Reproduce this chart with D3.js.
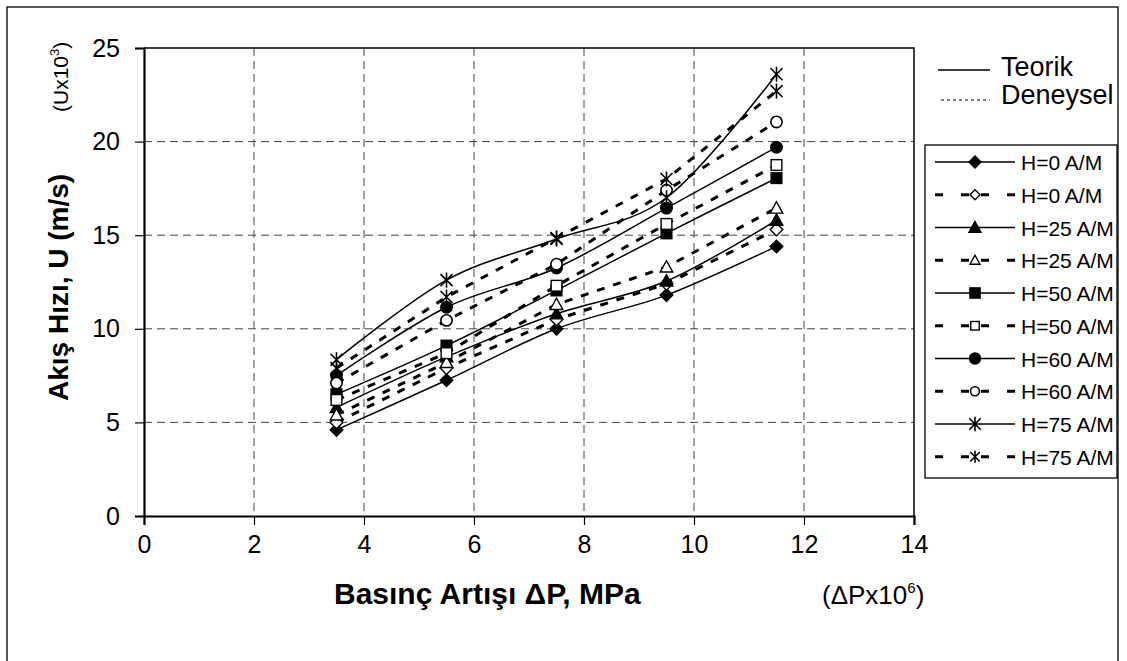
<!DOCTYPE html>
<html lang="tr">
<head>
<meta charset="utf-8" />
<title>Akış Hızı - Basınç Artışı</title>
<script src="https://cdn.jsdelivr.net/npm/d3@7"></script>
<style>
    body { margin: 0; background: #fff; }
    svg { font-family: "Liberation Sans", Arial, sans-serif; }
    .grid line { stroke: #444; stroke-width: 1; stroke-dasharray: 8,5; }
    .tick-label { font-size: 25px; fill: #000; }
    .theo { fill: none; stroke: #000; stroke-width: 1.5px; }
    .exp { fill: none; stroke: #000; stroke-width: 3px; stroke-dasharray: 8,9; }
</style>
</head>
<body>
<div id="chart"></div>
<script>
// basınç artışı (x) değerleri
const pressure = [3.5, 5.5, 7.5, 9.5, 11.5];

// teorik ve deneysel akış hızları (Ux10^3)
const h0Teorik   = [4.6, 7.25, 10.0, 11.8, 14.4];
const h0Deneysel = [5.0, 7.9, 10.5, 12.4, 15.3];
const h25Teorik   = [5.8, 8.5, 10.8, 12.55, 15.8];
const h25Deneysel = [5.4, 8.2, 11.3, 13.3, 16.45];
const h50Teorik   = [6.5, 9.1, 12.05, 15.1, 18.05];
const h50Deneysel = [6.2, 8.7, 12.3, 15.6, 18.75];
const h60Teorik   = [7.5, 11.15, 13.25, 16.45, 19.7];
const h60Deneysel = [7.1, 10.45, 13.45, 17.4, 21.05];
const h75Teorik   = [8.35, 12.6, 14.8, 17.0, 23.6];
const h75Deneysel = [7.9, 11.7, 14.85, 18.0, 22.7];

const seriesNames = ['H=0 A/M', 'H=0 A/M', 'H=25 A/M', 'H=25 A/M', 'H=50 A/M',
                     'H=50 A/M', 'H=60 A/M', 'H=60 A/M', 'H=75 A/M', 'H=75 A/M'];
const xTicks = [0, 2, 4, 6, 8, 10, 12, 14];
const yTicks = [0, 5, 10, 15, 20, 25];

const series = [
    {values: h0Teorik,   marker: 'diamond',  filled: true,  exp: false},
    {values: h0Deneysel, marker: 'diamond',  filled: false, exp: true},
    {values: h25Teorik,  marker: 'triangle', filled: true,  exp: false},
    {values: h25Deneysel,marker: 'triangle', filled: false, exp: true},
    {values: h50Teorik,  marker: 'square',   filled: true,  exp: false},
    {values: h50Deneysel,marker: 'square',   filled: false, exp: true},
    {values: h60Teorik,  marker: 'circle',   filled: true,  exp: false},
    {values: h60Deneysel,marker: 'circle',   filled: false, exp: true},
    {values: h75Teorik,  marker: 'star',     filled: true,  exp: false},
    {values: h75Deneysel,marker: 'star',     filled: false, exp: true}
];

const W = 1127, H = 661;
const plot = {left: 144, right: 914, top: 48, bottom: 516};

const x = d3.scaleLinear().domain([0, 14]).range([plot.left, plot.right]);
const y = d3.scaleLinear().domain([0, 25]).range([plot.bottom, plot.top]);

const svg = d3.select('#chart').append('svg')
    .attr('width', W)
    .attr('height', H);

// dış çerçeve
svg.append('rect')
    .attr('x', 7).attr('y', 7)
    .attr('width', 1111).attr('height', 670)
    .attr('fill', 'none').attr('stroke', '#000').attr('stroke-width', 1.3);

// ızgara
const grid = svg.append('g').attr('class', 'grid');
grid.selectAll('.gx')
    .data(xTicks.filter(d => d > 0 && d < 14))
    .enter().append('line')
    .attr('x1', d => x(d)).attr('x2', d => x(d))
    .attr('y1', plot.top).attr('y2', plot.bottom);
grid.selectAll('.gy')
    .data(yTicks.filter(d => d > 0 && d < 25))
    .enter().append('line')
    .attr('x1', plot.left).attr('x2', plot.right)
    .attr('y1', d => y(d)).attr('y2', d => y(d));

// üst ve sağ çerçeve
svg.append('path')
    .attr('d', 'M' + plot.left + ',' + plot.top + 'H' + plot.right + 'V' + plot.bottom)
    .attr('fill', 'none').attr('stroke', '#000').attr('stroke-width', 1.5);

// eksenler
const xAxis = svg.append('g')
    .attr('transform', 'translate(0,' + plot.bottom + ')')
    .call(d3.axisBottom(x).tickValues(xTicks).tickSize(9).tickPadding(10));
const yAxis = svg.append('g')
    .attr('transform', 'translate(' + plot.left + ',0)')
    .call(d3.axisLeft(y).tickValues(yTicks).tickSize(9).tickPadding(15));
[xAxis, yAxis].forEach(a => {
    a.select('.domain').attr('stroke-width', 2.2).attr('stroke', '#000');
    a.selectAll('.tick line').attr('stroke', '#000').attr('stroke-width', 1.2);
    a.selectAll('.tick text')
        .attr('class', 'tick-label')
        .style('font-family', '"Liberation Sans", Arial, sans-serif');
});

// çizgiler
const theoLine = d3.line()
    .x((d, i) => x(pressure[i]))
    .y(d => y(d))
    .curve(d3.curveCardinal.tension(0));
const expLine = d3.line()
    .x((d, i) => x(pressure[i]))
    .y(d => y(d));

function drawMarker(g, type, filled, s) {
    const fill = filled ? '#000' : '#fff';
    if (type === 'diamond') {
        g.append('path').attr('d', 'M0,' + (-s) + 'L' + s + ',0L0,' + s + 'L' + (-s) + ',0Z')
            .attr('fill', fill).attr('stroke', '#000').attr('stroke-width', 1.4);
    } else if (type === 'triangle') {
        g.append('path').attr('d', 'M0,' + (-s) + 'L' + s + ',' + (s * 0.8) + 'L' + (-s) + ',' + (s * 0.8) + 'Z')
            .attr('fill', fill).attr('stroke', '#000').attr('stroke-width', 1.4);
    } else if (type === 'square') {
        const h = s * 0.85;
        g.append('rect').attr('x', -h).attr('y', -h).attr('width', 2 * h).attr('height', 2 * h)
            .attr('fill', fill).attr('stroke', '#000').attr('stroke-width', 1.4);
    } else if (type === 'circle') {
        g.append('circle').attr('r', s * 0.9)
            .attr('fill', fill).attr('stroke', '#000').attr('stroke-width', 1.6);
    } else if (type === 'star') {
        const a = s * 0.95;
        g.append('path')
            .attr('d', 'M' + (-a) + ',' + (-a) + 'L' + a + ',' + a + 'M' + a + ',' + (-a) + 'L' + (-a) + ',' + a +
                'M0,' + (-s * 1.2) + 'V' + (s * 1.2))
            .attr('stroke', '#000').attr('stroke-width', 1.6).attr('fill', 'none');
    }
}

series.forEach(s => {
    svg.append('path')
        .datum(s.values)
        .attr('class', s.exp ? 'exp' : 'theo')
        .attr('d', s.exp ? expLine : theoLine);
    s.values.forEach((v, i) => {
        const g = svg.append('g').attr('transform', 'translate(' + x(pressure[i]) + ',' + y(v) + ')');
        drawMarker(g, s.marker, s.filled, 6.3);
    });
});

// eksen başlıkları
svg.append('text')
    .attr('x', 334).attr('y', 604)
    .style('font-size', '30px').style('font-weight', 'bold')
    .text('Basınç Artışı ΔP, MPa');
const xUnit = svg.append('text')
    .attr('x', 822).attr('y', 604)
    .style('font-size', '26px');
xUnit.append('tspan').text('(ΔPx10');
xUnit.append('tspan').attr('dy', -11).style('font-size', '15px').text('6');
xUnit.append('tspan').attr('dy', 11).text(')');

svg.append('text')
    .attr('transform', 'translate(68,401) rotate(-90)')
    .style('font-size', '28px').style('font-weight', 'bold')
    .text('Akış Hızı, U  (m/s)');
const yUnit = svg.append('text')
    .attr('transform', 'translate(68,112) rotate(-90)')
    .style('font-size', '21px');
yUnit.append('tspan').text('(Ux10');
yUnit.append('tspan').attr('dy', -9).style('font-size', '13px').text('3');
yUnit.append('tspan').attr('dy', 9).text(')');

// üst açıklama (Teorik / Deneysel)
svg.append('line').attr('x1', 938).attr('x2', 990).attr('y1', 70).attr('y2', 70)
    .attr('stroke', '#000').attr('stroke-width', 1.3);
svg.append('text').attr('x', 1001).attr('y', 76).style('font-size', '27px').text('Teorik');
svg.append('line').attr('x1', 941).attr('x2', 990).attr('y1', 100).attr('y2', 100)
    .attr('stroke', '#000').attr('stroke-width', 1).attr('stroke-dasharray', '3,3');
svg.append('text').attr('x', 1001).attr('y', 104).style('font-size', '27px').text('Deneysel');

// seri açıklaması
const legend = svg.append('g');
legend.append('rect')
    .attr('x', 925).attr('y', 145).attr('width', 192).attr('height', 333)
    .attr('fill', '#fff').attr('stroke', '#000').attr('stroke-width', 1.3);

const rows = legend.selectAll('.row')
    .data(series)
    .enter().append('g')
    .attr('transform', (d, i) => 'translate(0,' + (162 + i * 32.75) + ')');
rows.each(function(d, i) {
    const g = d3.select(this);
    if (d.exp) {
        g.append('line').attr('x1', 935).attr('x2', 972).attr('y1', 0).attr('y2', 0)
            .attr('stroke', '#000').attr('stroke-width', 3).attr('stroke-dasharray', '8,18');
        g.append('line').attr('x1', 1015).attr('x2', 978).attr('y1', 0).attr('y2', 0)
            .attr('stroke', '#000').attr('stroke-width', 3).attr('stroke-dasharray', '8,18');
    } else {
        g.append('line').attr('x1', 935).attr('x2', 1015).attr('y1', 0).attr('y2', 0)
            .attr('stroke', '#000').attr('stroke-width', 1.3);
    }
    const m = g.append('g').attr('transform', 'translate(975,0)');
    drawMarker(m, d.marker, d.filled, d.filled ? 6 : 5);
    g.append('text').attr('x', 1021).attr('y', 8)
        .style('font-size', '21px').text(seriesNames[i]);
});
</script>
</body>
</html>
